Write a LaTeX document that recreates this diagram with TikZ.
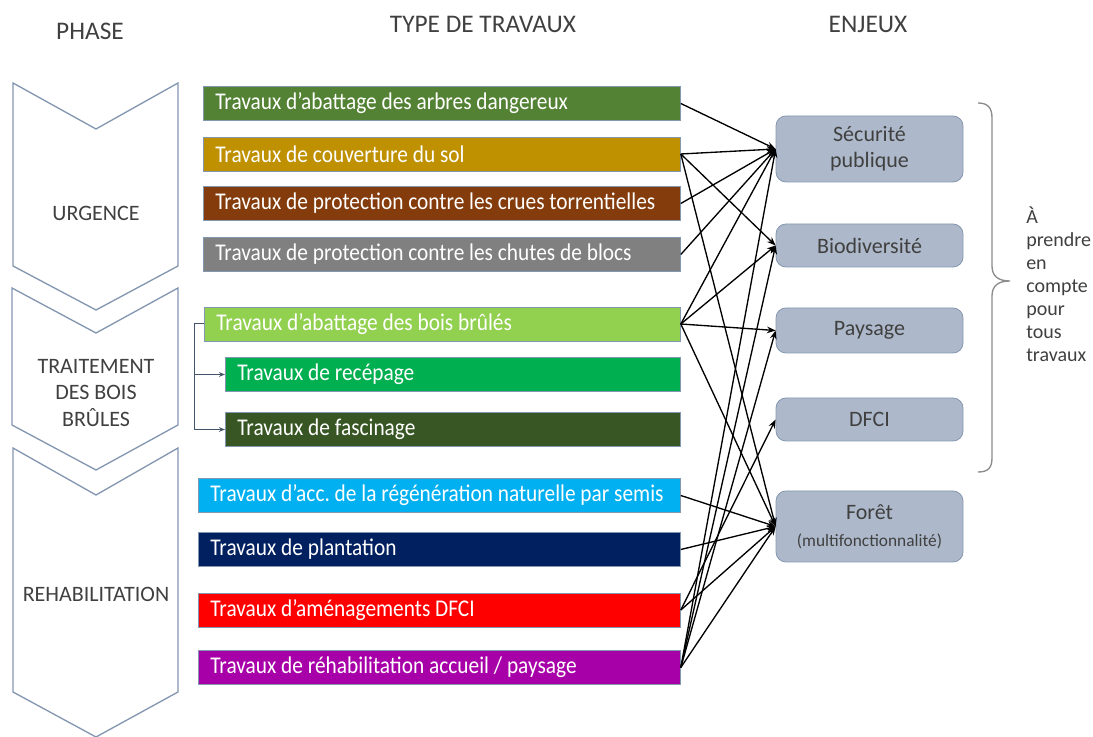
\documentclass[tikz,border=0pt]{standalone}
\usepackage{fontspec}
\setmainfont{Carlito}
\newfontfamily\etroit[FakeStretch=0.89]{Carlito}
\usepackage{xcolor}
\definecolor{c1}{RGB}{84,130,53}
\definecolor{c2}{RGB}{191,144,0}
\definecolor{c3}{RGB}{132,60,12}
\definecolor{c4}{RGB}{128,128,128}
\definecolor{c5}{RGB}{146,208,80}
\definecolor{c6}{RGB}{0,176,80}
\definecolor{c7}{RGB}{55,86,35}
\definecolor{c8}{RGB}{0,176,240}
\definecolor{c9}{RGB}{0,32,96}
\definecolor{c10}{RGB}{255,0,0}
\definecolor{c11}{RGB}{168,0,168}
\definecolor{contour}{RGB}{132,151,176}
\definecolor{enjeufond}{RGB}{173,185,202}
\definecolor{texte}{RGB}{64,64,64}
\definecolor{lienbleu}{RGB}{68,84,106}
\definecolor{accolade}{RGB}{140,140,140}
\usepackage{tikz}
\usetikzlibrary{arrows.meta}
\frenchspacing

\begin{document}
\begin{tikzpicture}[x=0.75pt,y=-0.75pt,
  tache/.style={draw=contour,line width=0.6pt,text=white,font=\etroit\fontsize{18pt}{20pt}\selectfont,anchor=west,align=left,inner xsep=9pt,minimum height=25.5pt,execute at begin node={\spaceskip=0pt\xspaceskip=0pt}},
  enjeu/.style={draw=contour,fill=enjeufond,line width=0.6pt,rounded corners=7.5pt,text=texte,font=\fontsize{16.5pt}{19.5pt}\selectfont,align=center,minimum width=140.25pt},
  phase/.style={text=texte,font=\fontsize{16.5pt}{20pt}\selectfont,align=center},
  titre/.style={text=texte,font=\fontsize{19pt}{22pt}\selectfont},
  chevron/.style={draw=contour,line width=1pt,line join=miter},
  fleche/.style={-{Stealth[length=6.5pt,width=5pt]},line width=1pt},
  lien/.style={-{Stealth[length=4.5pt,width=3.5pt]},draw=lienbleu,line width=0.75pt}]
\useasboundingbox (0,0) rectangle (1093,737);

%titles
\node (t1) at (90,31) [titre] {PHASE};
\node (t2) at (483,24) [titre] {TYPE DE TRAVAUX};
\node (t3) at (868,24) [titre] {ENJEUX};

%phases
\draw [chevron] (13,83) -- (96,129) -- (178,83) -- (178,266) -- (96,310) -- (13,266) -- cycle;
\draw [chevron] (12,288) -- (96,333) -- (178,288) -- (178,425) -- (96,470) -- (12,425) -- cycle;
\draw [chevron] (13,448) -- (96,495) -- (178,448) -- (178,692) -- (96,737) -- (13,692) -- cycle;
\node (u) at (96,213) [phase] {URGENCE};
\node (tr) at (96,393) [phase] {TRAITEMENT\\DES BOIS\\BRÛLES};
\node (r) at (96,594) [phase] {REHABILITATION};

%types of works
\node (1) at (203,103.5) [tache,fill=c1,text width=339.75pt] {Travaux d’abattage des arbres dangereux};
\node (2) at (203,154) [tache,fill=c2,text width=339.75pt] {Travaux de couverture du sol};
\node (3) at (203,203.5) [tache,fill=c3,text width=339.75pt] {Travaux de protection contre les crues torrentielles};
\node (4) at (203,254.5) [tache,fill=c4,text width=339.75pt] {Travaux de protection contre les chutes de blocs};
\node (5) at (204,324) [tache,fill=c5,text width=339pt] {Travaux d’abattage des bois brûlés};
\node (6) at (225,374.5) [tache,fill=c6,text width=323.25pt] {Travaux de recépage};
\node (7) at (225,429.5) [tache,fill=c7,text width=323.25pt] {Travaux de fascinage};
\node (8) at (198,495.5) [tache,fill=c8,text width=343.5pt] {Travaux d’acc. de la régénération naturelle par semis};
\node (9) at (198,549.5) [tache,fill=c9,text width=343.5pt] {Travaux de plantation};
\node (10) at (198,610) [tache,fill=c10,text width=343.5pt] {Travaux d’aménagements DFCI};
\node (11) at (198,667.5) [tache,fill=c11,text width=343.5pt] {Travaux de réhabilitation accueil / paysage};
%sub works
\draw [lien] (5.west) -- ++(-10,0) |- (6.west);
\draw [lien] (5.west) -- ++(-10,0) |- (7.west);

%stakes
\node (s) at (869.5,149) [enjeu,minimum height=49.5pt] {Sécurité\\publique};
\node (b) at (869.5,245.5) [enjeu,minimum height=32.25pt] {Biodiversité};
\node (p) at (869.5,330.5) [enjeu,minimum height=33.75pt] {Paysage};
\node (d) at (869.5,419.5) [enjeu,minimum height=32.25pt] {DFCI};
\node (f) at (869.5,526.5) [enjeu,minimum height=53.25pt] {Forêt\\[1pt]{\fontsize{13pt}{15pt}\selectfont (multifonctionnalité)}};

%links works to stakes
\foreach \a/\b in {1/s,2/s,2/b,2/f,3/s,4/s,5/s,5/b,5/p,5/f,8/f,9/f,10/d,10/f,11/s,11/b,11/p,11/f}{
    \draw [fleche] (\a.east) -- (\b.west);
}

%brace
\draw [accolade,line width=1pt] (978,103) .. controls (988,103) and (992,108) .. (992,118) -- (992,266)
  .. controls (992,276) and (998,281) .. (1010,281) .. controls (998,281) and (992,286) .. (992,296)
  -- (992,458) .. controls (992,468) and (988,472) .. (978,472);
\node (a) at (1026,207) [anchor=north west,align=left,inner sep=0,text=texte,font=\fontsize{15pt}{17.25pt}\selectfont] {À\\prendre\\en\\compte\\pour\\tous\\travaux};

\end{tikzpicture}
\end{document}
